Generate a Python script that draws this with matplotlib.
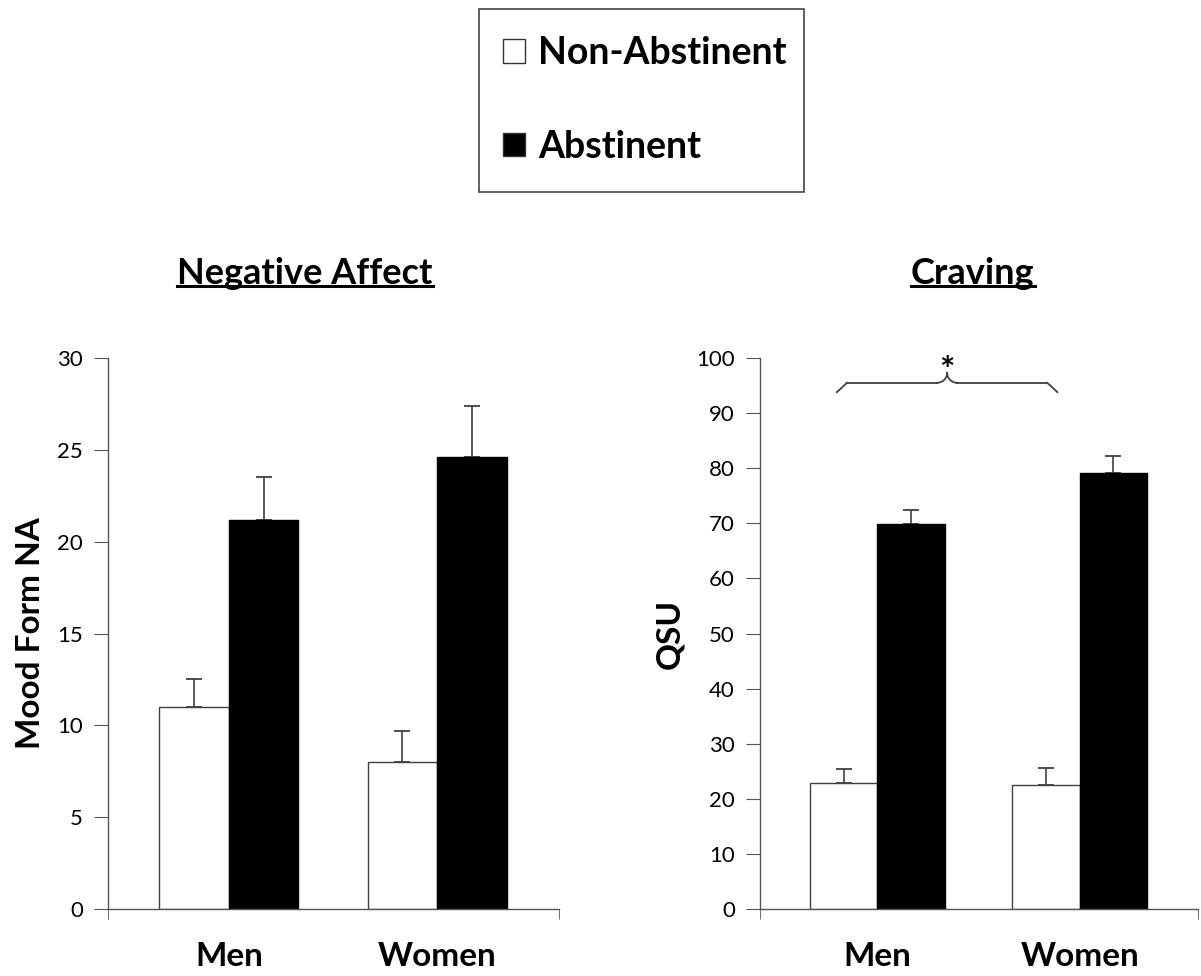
import numpy as np
import matplotlib
matplotlib.use("Agg")
import matplotlib.pyplot as plt
from matplotlib.patches import Patch, Rectangle
from matplotlib.lines import Line2D

plt.rcParams['font.family'] = ['Lato', 'DejaVu Sans']

groups = ["Men", "Women"]
series = ["Non-Abstinent", "Abstinent"]
colors = ["white", "black"]

na_mean = np.array([[11.0, 8.0], [21.2, 24.6]])
na_err = np.array([[1.5, 1.7], [2.3, 2.8]])

qsu_mean = np.array([[22.9, 22.5], [69.8, 79.1]])
qsu_err = np.array([[2.5, 3.1], [2.6, 3.1]])

axis_col = "#555555"
pos = np.arange(len(groups))
w = 0.334

W, H = 1201, 976
fig = plt.figure(figsize=(W/100, H/100), dpi=100)
ax1 = fig.add_axes([108/W, 1-909/H, 451/W, 551/H])
ax2 = fig.add_axes([760/W, 1-909/H, 438/W, 551/H])


def draw(ax, means, errs, ymax, step, ylabel, title, tx):
    for i in range(2):
        x = pos - w/2 + i*w
        ax.bar(x, means[i], width=w, color=colors[i],
               edgecolor="#404040" if i == 0 else "black", linewidth=1, zorder=2)
        ax.errorbar(x, means[i], yerr=[np.zeros(2), errs[i]], fmt="none",
                    ecolor="#404040", elinewidth=1.2, capsize=5.5, capthick=1.3, zorder=1)
    ax.set_ylim(0, ymax)
    ax.set_xlim(-0.58, 1.585)
    ax.set_yticks(np.arange(0, ymax + 1, step))
    ax.set_xticks(pos)
    ax.set_xticklabels(groups, fontsize=24, fontweight="bold")
    ax.set_xticks([-0.58, 1.585], minor=True)
    ax.tick_params(axis="x", which="major", length=0, pad=24)
    ax.tick_params(axis="x", which="minor", length=7, direction="out", color=axis_col)
    ax.tick_params(axis="y", length=10, direction="out", color=axis_col, labelsize=16, pad=8)
    for s in ["top", "right"]:
        ax.spines[s].set_visible(False)
    for s in ["left", "bottom"]:
        ax.spines[s].set_color(axis_col)
        ax.spines[s].set_linewidth(1)
    ax.set_ylabel(ylabel, fontsize=24, fontweight="bold", labelpad=9)
    t = ax.text(tx, 1 + 85/551, title, transform=ax.transAxes, ha="center", va="center",
                fontsize=26, fontweight="bold")
    return t


t1 = draw(ax1, na_mean, na_err, 30, 5, "Mood Form NA", "Negative Affect", 0.437)
t2 = draw(ax2, qsu_mean, qsu_err, 100, 10, "QSU", "Craving", 0.486)

# brace with significance star over the craving chart
bx0, bx1 = pos[0] - 0.2, pos[1] - 0.11
bm = (bx0 + bx1) / 2
yb, yf, yt = 93.8, 95.5, 97.3
t = np.linspace(0, 1, 20)
q = np.sin(t*np.pi/2)
c = 1 - np.cos(t*np.pi/2)
bk = dict(color="#404040", lw=1.3, clip_on=False)
ax2.plot(bx0 + 0.05*q, yb + (yf - yb)*q, **bk)
ax2.plot([bx0 + 0.05, bm - 0.05], [yf, yf], **bk)
ax2.plot(bm - 0.05 + 0.05*q, yf + (yt - yf)*c, **bk)
ax2.plot(bm + 0.05 - 0.05*q, yf + (yt - yf)*c, **bk)
ax2.plot([bm + 0.05, bx1 - 0.05], [yf, yf], **bk)
ax2.plot(bx1 - 0.05*q, yb + (yf - yb)*q, **bk)
ax2.text(bm, 94.6, "*", ha="center", va="bottom", fontsize=26, fontweight="bold")

# legend: items without frame, box drawn separately
handles = [Patch(facecolor=c, edgecolor="#333333", linewidth=1) for c in colors]
leg = fig.legend(handles, series, loc="center", bbox_to_anchor=(645/W, 1-100/H),
                 frameon=False, prop={"size": 27, "weight": "bold"},
                 handlelength=0.58, handleheight=0.58, handletextpad=0.35,
                 labelspacing=1.58, borderpad=0, borderaxespad=0)
fig.add_artist(Rectangle((479/W, 1-192/H), 325/W, 183/H, transform=fig.transFigure,
                         facecolor="none", edgecolor="#444444", lw=1.2))

# underline the panel titles
fig.canvas.draw()
r = fig.canvas.get_renderer()
for tt in (t1, t2):
    bb = tt.get_window_extent(r).transformed(fig.transFigure.inverted())
    fig.add_artist(Line2D([bb.x0, bb.x1], [bb.y0 + 0.004, bb.y0 + 0.004],
                          transform=fig.transFigure, color="black", lw=2.2))

fig.savefig("out.png", dpi=100)
